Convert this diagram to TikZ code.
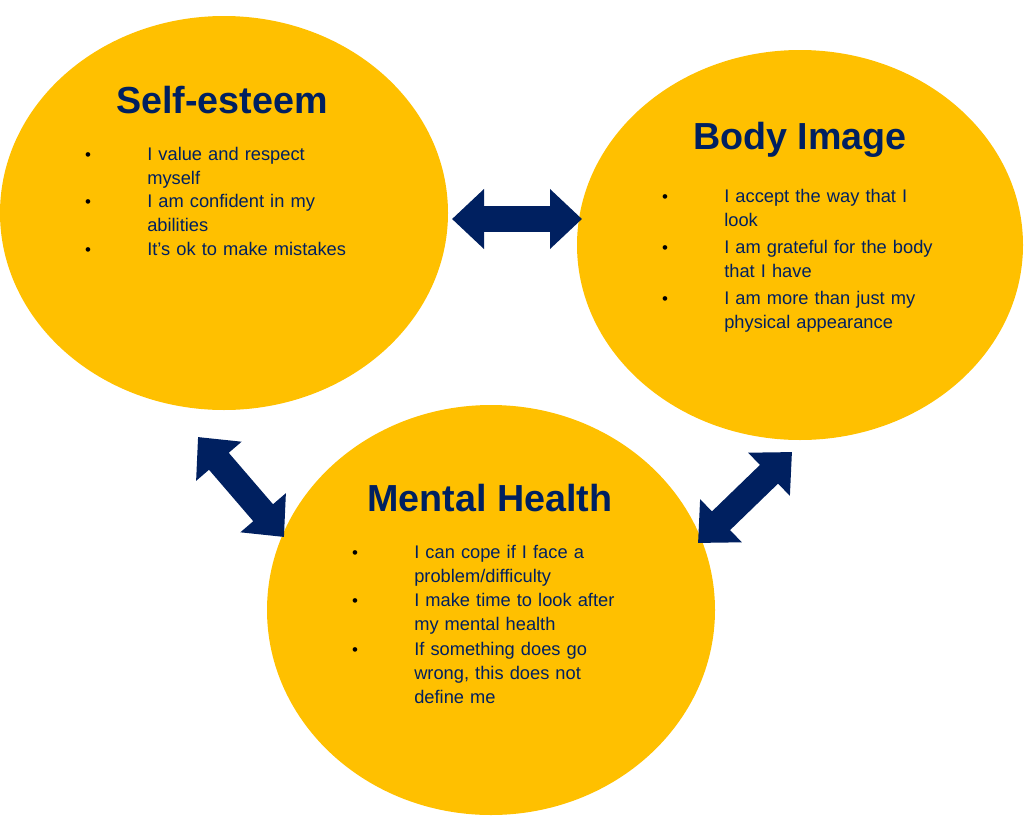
\documentclass[tikz,border=0pt]{standalone}
\usepackage{fontspec}
\setmainfont{Liberation Sans}
\usetikzlibrary{arrows.meta}
\definecolor{gold}{HTML}{FFC000}
\definecolor{navy}{HTML}{002060}

\begin{document}
\begin{tikzpicture}[x=0.025cm,y=-0.025cm,
  heading/.style={font=\fontsize{26.8}{30}\selectfont\bfseries,text=navy},
  point/.style={anchor=base west,align=left,inner sep=0pt,text=navy,
    font=\fontsize{13}{17.4}\selectfont,text width=5.5cm},
  dot/.style={anchor=base,inner sep=0pt,font=\fontsize{12}{14}\selectfont},
  link/.style={draw=navy,line width=0.65cm,
    {Triangle[length=0.8cm,width=1.45cm]}-{Triangle[length=0.8cm,width=1.45cm]}}]
\useasboundingbox (0,0) rectangle (1024,815);

% Circles
\fill[gold] (224,213) ellipse (224 and 197);
\fill[gold] (800,245) ellipse (223 and 195);
\fill[gold] (491,610) ellipse (224 and 205);

% Titles
\node[heading] (self) at (222,100) {Self-esteem};
\node[heading] (body) at (800,140) {Body Image};
\node[heading] (mental) at (490,498) {Mental Health};

% Self-esteem points
\node[dot] at (88,160) {\textbullet};
\node[point] (s1) at (147,160) {I value and respect\\myself};
\node[dot] at (88,207) {\textbullet};
\node[point] (s2) at (147,207) {I am confident in my\\abilities};
\node[dot] at (88,255) {\textbullet};
\node[point] (s3) at (147,255) {It’s ok to make mistakes};

% Body image points
\node[dot] at (665,202) {\textbullet};
\node[point] (b1) at (724,202) {I accept the way that I\\look};
\node[dot] at (665,253) {\textbullet};
\node[point] (b2) at (724,253) {I am grateful for the body\\that I have};
\node[dot] at (665,304) {\textbullet};
\node[point] (b3) at (724,304) {I am more than just my\\physical appearance};

% Mental health points
\node[dot] at (355,558) {\textbullet};
\node[point] (m1) at (414,558) {I can cope if I face a\\problem/difficulty};
\node[dot] at (355,606) {\textbullet};
\node[point] (m2) at (414,606) {I make time to look after\\my mental health};
\node[dot] at (355,655) {\textbullet};
\node[point] (m3) at (414,655) {If something does go\\wrong, this does not\\define me};

% Arrows
\coordinate (e1) at (452,219);
\coordinate (e2) at (582,219);
\coordinate (e3) at (198,437);
\coordinate (e4) at (284,537);
\coordinate (e5) at (792,452);
\coordinate (e6) at (698,543);
\draw[link] (e1) -- (e2);
\draw[link] (e3) -- (e4);
\draw[link] (e5) -- (e6);
\end{tikzpicture}
\end{document}
